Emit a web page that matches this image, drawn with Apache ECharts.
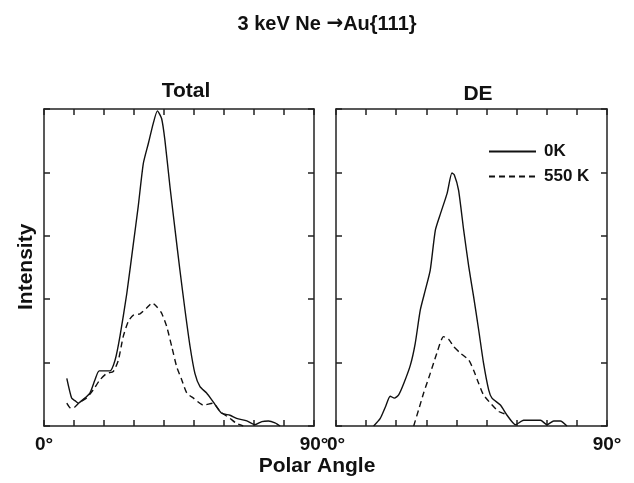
<!DOCTYPE html>
<html>
<head>
<meta charset="utf-8">
<script src="https://cdn.jsdelivr.net/npm/echarts@6/dist/echarts.min.js"></script>
<style>
html,body{margin:0;padding:0;background:#fff;}
#chart{width:634px;height:483px;}
</style>
</head>
<body>
<div id="chart"></div>
<script>
// ---- Data (polar angle in degrees, intensity in arbitrary units) ----
var totalAngle0K = [7.6, 9.2, 10.3, 11.4, 13.1, 15.3, 17.0, 18.4, 22.0, 23.7, 25.3, 27.6, 29.8, 31.4, 33.1, 34.8, 36.4, 37.8, 39.2, 40.3, 42.0, 43.7, 45.3, 47.0, 48.7, 50.3, 52.0, 54.2, 56.4, 59.2, 62.0, 64.2, 67.6, 70.3, 72.6, 74.8, 77.0, 78.7];
var total0K      = [0.75, 0.44, 0.40, 0.36, 0.42, 0.52, 0.73, 0.87, 0.87, 1.04, 1.41, 2.09, 2.88, 3.46, 4.14, 4.46, 4.77, 4.97, 4.85, 4.51, 3.77, 3.09, 2.46, 1.83, 1.25, 0.83, 0.62, 0.52, 0.38, 0.20, 0.17, 0.12, 0.08, 0.02, 0.07, 0.08, 0.05, 0.0];

var totalAngle550K = [7.6, 8.9, 10.3, 12.0, 14.2, 16.4, 18.7, 20.9, 23.1, 24.8, 26.4, 28.1, 29.8, 32.0, 34.2, 36.1, 37.6, 39.2, 40.9, 42.6, 44.2, 45.9, 47.6, 49.8, 53.1, 56.4, 58.7, 62.0, 64.2, 66.4];
var total550K      = [0.36, 0.28, 0.30, 0.38, 0.44, 0.57, 0.73, 0.83, 0.86, 1.04, 1.41, 1.65, 1.75, 1.77, 1.86, 1.94, 1.88, 1.78, 1.57, 1.25, 0.94, 0.73, 0.52, 0.44, 0.33, 0.36, 0.23, 0.12, 0.04, 0.0];

var deAngle0K = [12.5, 14.7, 16.4, 18.0, 19.4, 20.8, 22.5, 24.7, 26.3, 28.0, 29.7, 31.3, 33.0, 34.7, 36.9, 38.5, 39.3, 40.7, 42.4, 44.1, 45.7, 47.4, 49.0, 50.7, 51.8, 54.6, 56.8, 59.6, 62.3, 67.9, 70.1, 72.3, 74.5, 76.7];
var de0K      = [0.0, 0.12, 0.30, 0.47, 0.44, 0.49, 0.67, 0.96, 1.30, 1.83, 2.15, 2.46, 3.09, 3.35, 3.67, 3.99, 3.96, 3.72, 3.09, 2.51, 2.04, 1.51, 0.99, 0.57, 0.44, 0.33, 0.17, 0.02, 0.09, 0.09, 0.02, 0.08, 0.08, 0.0];

var deAngle550K = [25.8, 27.4, 29.1, 31.3, 33.5, 35.7, 37.4, 39.1, 41.3, 44.1, 45.7, 47.4, 49.0, 51.3, 54.0, 56.2];
var de550K      = [0.0, 0.25, 0.52, 0.83, 1.15, 1.41, 1.37, 1.25, 1.15, 1.04, 0.88, 0.67, 0.49, 0.36, 0.23, 0.19];

var panelTitles = ['Total', 'DE'];
var seriesNames = ['0K', '550 K'];
var xTickLabels = {0: '0\u00b0', 90: '90\u00b0'};

function zip(a, b) { return a.map(function (v, i) { return [v, b[i]]; }); }

var FONT = '"Liberation Sans", Arial, sans-serif';
var INK = '#111';

function xAx(gi, pos, labels) {
  return {
    type: 'value', gridIndex: gi, position: pos, min: 0, max: 90, interval: 10,
    axisLine: { show: true, onZero: false, lineStyle: { color: '#222', width: 1.5 } },
    axisTick: { show: true, inside: true, length: 6, lineStyle: { color: '#222', width: 1.5 } },
    axisLabel: labels ? {
      show: true, margin: 9, color: INK, fontFamily: FONT, fontWeight: 'bold', fontSize: 19,
      formatter: function (v) { return xTickLabels[v] || ''; }
    } : { show: false },
    splitLine: { show: false }
  };
}
function yAx(gi, pos) {
  return {
    type: 'value', gridIndex: gi, position: pos, min: 0, max: 5, interval: 1,
    axisLine: { show: true, onZero: false, lineStyle: { color: '#222', width: 1.5 } },
    axisTick: { show: true, inside: true, length: 6, lineStyle: { color: '#222', width: 1.5 } },
    axisLabel: { show: false },
    splitLine: { show: false }
  };
}
function ser(name, xi, yi, data, dashed) {
  return {
    name: name, type: 'line', xAxisIndex: xi, yAxisIndex: yi, data: data,
    symbol: 'none', smooth: 0.2, animation: false,
    lineStyle: { color: INK, width: 1.4, type: dashed ? [6, 4] : 'solid' },
    itemStyle: { color: INK }
  };
}

var chart = echarts.init(document.getElementById('chart'));
chart.setOption({
  backgroundColor: '#fff',
  animation: false,
  title: [
    { text: '3 keV Ne {a|\u2192}Au{111}', left: 322, top: 9, textAlign: 'center',
      textStyle: { fontFamily: FONT, fontWeight: 'bold', fontSize: 20, color: INK,
        rich: { a: { fontFamily: '"DejaVu Sans", sans-serif', fontSize: 20, fontWeight: 'bold', color: INK } } } },
    { text: panelTitles[0], left: 181, top: 76, textAlign: 'center',
      textStyle: { fontFamily: FONT, fontWeight: 'bold', fontSize: 21, color: INK } },
    { text: panelTitles[1], left: 473, top: 79, textAlign: 'center',
      textStyle: { fontFamily: FONT, fontWeight: 'bold', fontSize: 21, color: INK } }
  ],
  legend: {
    orient: 'vertical', left: 483, top: 138, itemWidth: 47, itemHeight: 16, itemGap: 8,
    itemStyle: { opacity: 0 },
    textStyle: { fontFamily: FONT, fontWeight: 'bold', fontSize: 17, color: INK, padding: [0, 0, 0, 3] },
    data: seriesNames
  },
  grid: [
    { left: 44, top: 109, width: 270, height: 317 },
    { left: 336, top: 109, width: 271, height: 317 }
  ],
  xAxis: [xAx(0, 'bottom', true), xAx(0, 'top', false), xAx(1, 'bottom', true), xAx(1, 'top', false)],
  yAxis: [yAx(0, 'left'), yAx(0, 'right'), yAx(1, 'left'), yAx(1, 'right')],
  series: [
    ser(seriesNames[0], 0, 0, zip(totalAngle0K, total0K), false),
    ser(seriesNames[1], 0, 0, zip(totalAngle550K, total550K), true),
    ser(seriesNames[0], 2, 2, zip(deAngle0K, de0K), false),
    ser(seriesNames[1], 2, 2, zip(deAngle550K, de550K), true)
  ],
  graphic: [
    { type: 'text', left: 'center', top: 456,
      style: { text: 'Polar Angle', font: 'bold 21px ' + FONT, fill: INK } },
    { type: 'text', x: 16, y: 310, rotation: Math.PI / 2,
      style: { text: 'Intensity', font: 'bold 21px ' + FONT, fill: INK } }
  ]
});
</script>
</body>
</html>
